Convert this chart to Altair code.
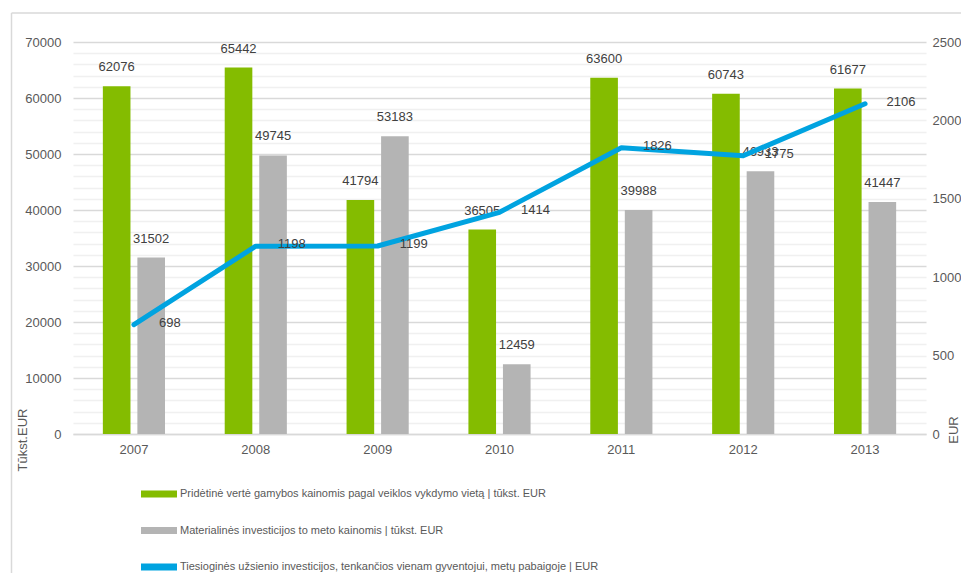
import altair as alt
import pandas as pd

years = ["2007", "2008", "2009", "2010", "2011", "2012", "2013"]
value_added = [62076, 65442, 41794, 36505, 63600, 60743, 61677]
investment = [31502, 49745, 53183, 12459, 39988, 46933, 41447]
fdi_per_capita = [698, 1198, 1199, 1414, 1826, 1775, 2106]

S1 = "Pridėtinė vertė gamybos kainomis pagal veiklos vykdymo vietą | tūkst. EUR"
S2 = "Materialinės investicijos to meto kainomis | tūkst. EUR"
S3 = "Tiesioginės užsienio investicijos, tenkančios vienam gyventojui, metų pabaigoje | EUR"
LEFT_TITLE = "Tūkst.EUR"
RIGHT_TITLE = "EUR"

GREEN = "#84BC00"
GRAY = "#B4B4B4"
BLUE = "#00A3E0"
TXT = "#404040"
AX = "#595959"
FONT = "Liberation Sans"

bars_df = pd.DataFrame({
    "year": years * 2,
    "series": [S1] * len(years) + [S2] * len(years),
    "value": value_added + investment,
})
line_df = pd.DataFrame({"year": years, "series": [S3] * len(years), "value": fdi_per_capita})
frame_df = pd.DataFrame({"k": [0]})

x_enc = alt.X(
    "year:N",
    scale=alt.Scale(paddingInner=0.49, paddingOuter=0.245),
    axis=alt.Axis(title=None, labelAngle=0, ticks=False, domainColor="#D9D9D9",
                  domainWidth=1.5, labelPadding=9, labelFontSize=13, labelColor=AX),
)
xoff = alt.XOffset("series:N", scale=alt.Scale(domain=[S1, S2], paddingInner=0.2, paddingOuter=0))

left_axis = alt.Axis(
    values=list(range(0, 70001, 2000)), tickCount=40,
    labelExpr="datum.value % 10000 === 0 ? datum.label : ''",
    format="d", ticks=False, domain=False, labelOverlap=False,
    labelFontSize=13, labelColor=AX, labelPadding=12,
    gridColor={"condition": {"test": "datum.value % 10000 === 0", "value": "#D9D9D9"}, "value": "#F0F0F0"},
    gridWidth=1.5, title=None,
)
right_axis = alt.Axis(
    orient="right", values=[0, 500, 1000, 1500, 2000, 2500], format="d", ticks=False,
    domain=False, grid=False, labelFontSize=13, labelColor=AX, labelPadding=6, title=None,
)

color = alt.Color(
    "series:N",
    scale=alt.Scale(domain=[S1, S2, S3], range=[GREEN, GRAY, BLUE]),
    legend=alt.Legend(
        title=None, orient="none", legendX=68, legendY=434, direction="vertical",
        symbolType="M-1,-0.2L1,-0.2L1,0.2L-1,0.2Z", symbolSize=1296, symbolStrokeWidth=0,
        labelFont=FONT, labelFontSize=11, labelColor=AX, labelOffset=3,
        rowPadding=13.5, padding=0, labelLimit=800,
    ),
)

y_left = alt.Y("value:Q", scale=alt.Scale(domain=[0, 70000], nice=False), axis=left_axis)

bars = alt.Chart(bars_df).mark_bar().encode(x=x_enc, xOffset=xoff, y=y_left, color=color)
bar_labels = alt.Chart(bars_df).mark_text(
    dy=-19, baseline="middle", fontSize=13, color=TXT, font=FONT
).encode(x="year:N", xOffset=xoff, y="value:Q", text=alt.Text("value:Q", format="d"))

y_right = alt.Y("value:Q", scale=alt.Scale(domain=[0, 2500], nice=False), axis=right_axis)
line = alt.Chart(line_df).mark_line(
    color=BLUE, strokeWidth=5, strokeJoin="round", strokeCap="round"
).encode(x="year:N", y=y_right)
line_labels = alt.Chart(line_df).mark_text(
    dx=36, dy=-2, baseline="middle", fontSize=13, color=TXT, font=FONT
).encode(x="year:N", y="value:Q", text=alt.Text("value:Q", format="d"))

frame_left = alt.Chart(frame_df).mark_rule(color="#D9D9D9", strokeWidth=1.5).encode(
    x=alt.value(-61.5), y=alt.value(-29), y2=alt.value(560))
frame_top = alt.Chart(frame_df).mark_rule(color="#D9D9D9", strokeWidth=1.5).encode(
    x=alt.value(-61.5), x2=alt.value(900), y=alt.value(-29))

title_left = alt.Chart(frame_df).mark_text(
    angle=270, align="center", baseline="middle", fontSize=13, color=AX, font=FONT
).encode(x=alt.value(-50), y=alt.value(398), text=alt.value(LEFT_TITLE))
title_right = alt.Chart(frame_df).mark_text(
    angle=270, align="center", baseline="middle", fontSize=13, color=AX, font=FONT
).encode(x=alt.value(881), y=alt.value(388), text=alt.value(RIGHT_TITLE))

chart = alt.layer(
    frame_left, frame_top, title_left, title_right,
    alt.layer(bars, bar_labels),
    alt.layer(line, line_labels),
).resolve_scale(y="independent").properties(
    width=853, height=392,
    autosize=alt.AutoSizeParams(type="none"),
    padding={"left": 65, "top": 34, "right": 35, "bottom": 139},
).configure(font=FONT).configure_view(stroke=None)

chart.save("out.html", embed_options={"renderer": "svg", "actions": False})
